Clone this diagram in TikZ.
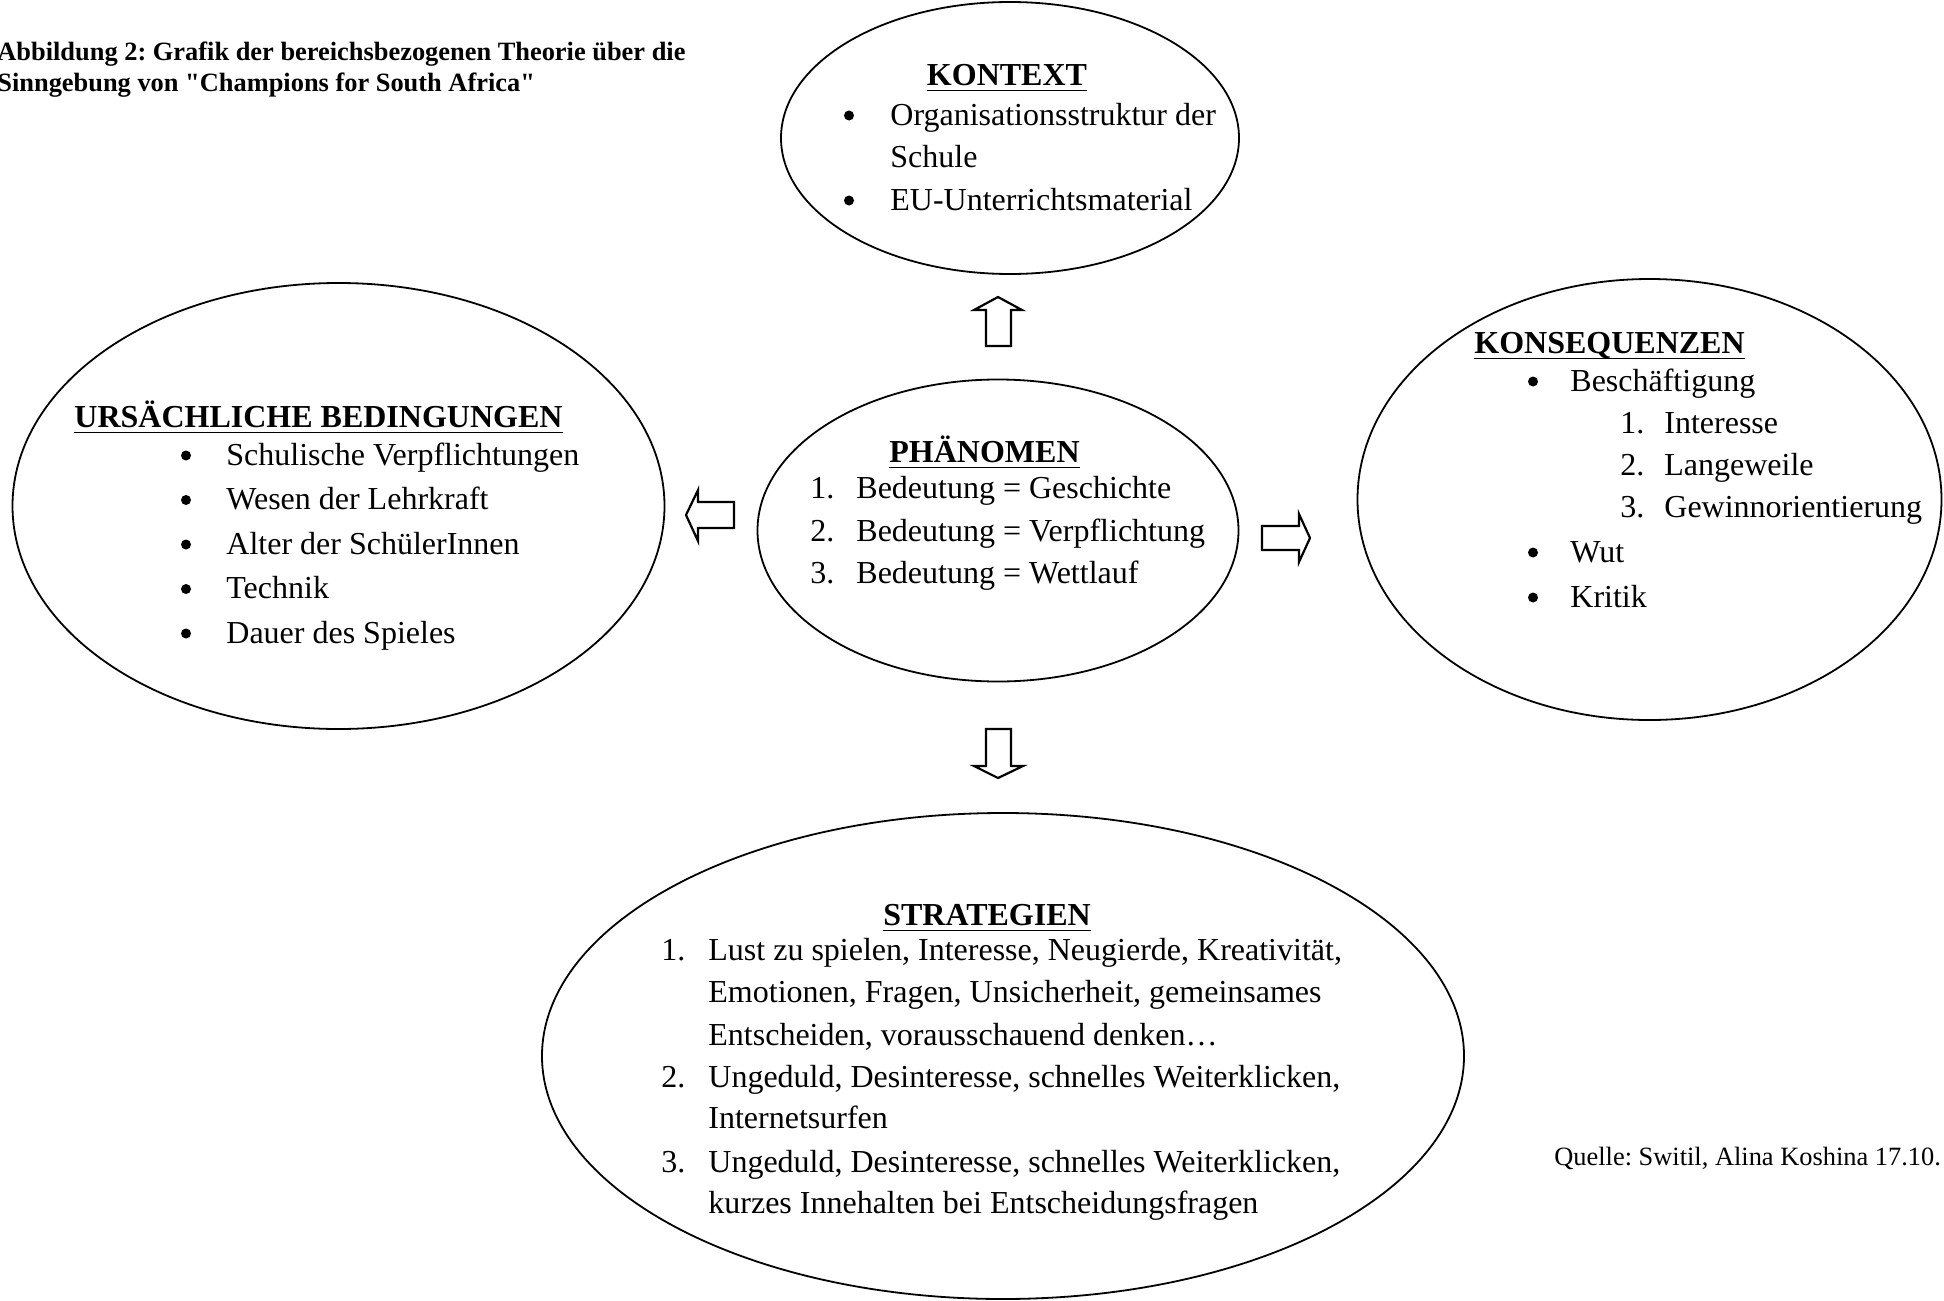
\documentclass[tikz,border=0pt]{standalone}
\usepackage{fontspec}
\setmainfont{Liberation Serif}[Ligatures=TeXOff]
\usetikzlibrary{shapes.geometric}
\frenchspacing
\begin{document}
\frenchspacing
\begin{tikzpicture}[x=0.5pt,y=-0.5pt,
  oval/.style={ellipse, draw, line width=0.9pt, inner sep=0pt},
  head/.style={font=\fontsize{16}{20}\selectfont\bfseries, inner sep=0pt, anchor=base},
  txt/.style={font=\fontsize{16}{20}\selectfont, inner sep=0pt, anchor=base west},
  bul/.style={circle, fill, inner sep=0pt, minimum size=5pt},
  small/.style={font=\fontsize{13.2}{15.35}\selectfont, inner sep=0pt, anchor=base west},
  uline/.style={line width=0.9pt},
  blockarrow/.style={draw, line width=1.1pt, line join=miter, fill=white}]
\useasboundingbox (0,0) rectangle (1944,1301);

% title
\node[small, font=\fontsize{13.2}{15.35}\selectfont\bfseries] (t1) at (-3,61) {Abbildung 2: Grafik der bereichsbezogenen Theorie über die};
\node[small, font=\fontsize{13.2}{15.35}\selectfont\bfseries] (t2) at (-3,91) {Sinngebung von "Champions for South Africa"};

% ellipses
\node[oval, minimum width=229pt, minimum height=136pt] (kontext) at (1010,138) {};
\node[oval, minimum width=326pt, minimum height=223pt] (urs) at (338.5,506) {};
\node[oval, minimum width=240.5pt, minimum height=151pt] (phaen) at (998,530.5) {};
\node[oval, minimum width=292pt, minimum height=220.5pt] (kons) at (1649.5,499.5) {};
\node[oval, minimum width=461pt, minimum height=243pt] (strat) at (1003,1056) {};

% block arrows
\draw[blockarrow] (998,297) -- (1022,310) -- (1011,310) -- (1011,346) -- (986,346) -- (986,310) -- (974,310) -- cycle;
\draw[blockarrow] (986,729) -- (1011,729) -- (1011,766) -- (1023,766) -- (998,778) -- (974,766) -- (986,766) -- cycle;
\draw[blockarrow] (686,515) -- (698,490) -- (698,502) -- (734,502) -- (734,528) -- (698,528) -- (698,541) -- cycle;
\draw[blockarrow] (1262,526) -- (1299,526) -- (1299,514) -- (1310,538) -- (1299,562) -- (1299,550) -- (1262,550) -- cycle;

% KONTEXT
\node[head] (hk) at (1007,85) {KONTEXT};
\draw[uline] ([yshift=-2.75pt]hk.base west) -- ([yshift=-2.75pt]hk.base east);
\node[bul] (kb1) at (849,115.5) {};
\node[txt] (k1) at (890,125) {Organisationsstruktur der};
\node[txt] (k2) at (890,167) {Schule};
\node[bul] (kb3) at (849,200.5) {};
\node[txt] (k3) at (890,210) {EU-Unterrichtsmaterial};

% URSAECHLICHE BEDINGUNGEN
\node[head] (hu) at (318.5,427) {URSÄCHLICHE BEDINGUNGEN};
\draw[uline] ([yshift=-2.75pt]hu.base west) -- ([yshift=-2.75pt]hu.base east);
\node[bul] (ub1) at (186,455.5) {};
\node[txt] (u1) at (226,465) {Schulische Verpflichtungen};
\node[bul] (ub2) at (186,500) {};
\node[txt] (u2) at (226,509.5) {Wesen der Lehrkraft};
\node[bul] (ub3) at (186,544.5) {};
\node[txt] (u3) at (226,554) {Alter der SchülerInnen};
\node[bul] (ub4) at (186,589) {};
\node[txt] (u4) at (226,598.5) {Technik};
\node[bul] (ub5) at (186,633.5) {};
\node[txt] (u5) at (226,643) {Dauer des Spieles};

% PHAENOMEN
\node[head] (hp) at (984.5,462) {PHÄNOMEN};
\draw[uline] ([yshift=-2.75pt]hp.base west) -- ([yshift=-2.75pt]hp.base east);
\node[txt] (pn1) at (810,498) {1.};
\node[txt] (p1) at (856,498) {Bedeutung = Geschichte};
\node[txt] (pn2) at (810,541) {2.};
\node[txt] (p2) at (856,541) {Bedeutung = Verpflichtung};
\node[txt] (pn3) at (810,583.5) {3.};
\node[txt] (p3) at (856,583.5) {Bedeutung = Wettlauf};

% KONSEQUENZEN
\node[head] (hq) at (1609.5,353) {KONSEQUENZEN};
\draw[uline] ([yshift=-2.75pt]hq.base west) -- ([yshift=-2.75pt]hq.base east);
\node[bul] (qb1) at (1533,381.5) {};
\node[txt] (q1) at (1570,391) {Beschäftigung};
\node[txt] (qn1) at (1620,433) {1.};
\node[txt] (q11) at (1664,433) {Interesse};
\node[txt] (qn2) at (1620,475) {2.};
\node[txt] (q12) at (1664,475) {Langeweile};
\node[txt] (qn3) at (1620,517) {3.};
\node[txt] (q13) at (1664,517) {Gewinnorientierung};
\node[bul] (qb2) at (1533,552.5) {};
\node[txt] (q2) at (1570,562) {Wut};
\node[bul] (qb3) at (1533,597.5) {};
\node[txt] (q3) at (1570,607) {Kritik};

% STRATEGIEN
\node[head] (hs) at (987,925) {STRATEGIEN};
\draw[uline] ([yshift=-2.75pt]hs.base west) -- ([yshift=-2.75pt]hs.base east);
\node[txt] (sn1) at (661,960) {1.};
\node[txt] (s1a) at (708,960) {Lust zu spielen, Interesse, Neugierde, Kreativität,};
\node[txt] (s1b) at (708,1002) {Emotionen, Fragen, Unsicherheit, gemeinsames};
\node[txt] (s1c) at (708,1045) {Entscheiden, vorausschauend denken…};
\node[txt] (sn2) at (661,1087) {2.};
\node[txt] (s2a) at (708,1087) {Ungeduld, Desinteresse, schnelles Weiterklicken,};
\node[txt] (s2b) at (708,1128.5) {Internetsurfen};
\node[txt] (sn3) at (661,1172) {3.};
\node[txt] (s3a) at (708,1172) {Ungeduld, Desinteresse, schnelles Weiterklicken,};
\node[txt] (s3b) at (708,1213.5) {kurzes Innehalten bei Entscheidungsfragen};

% source
\node[small] (src) at (1554,1165) {Quelle: Switil, Alina Koshina 17.10.};
\end{tikzpicture}
\end{document}
